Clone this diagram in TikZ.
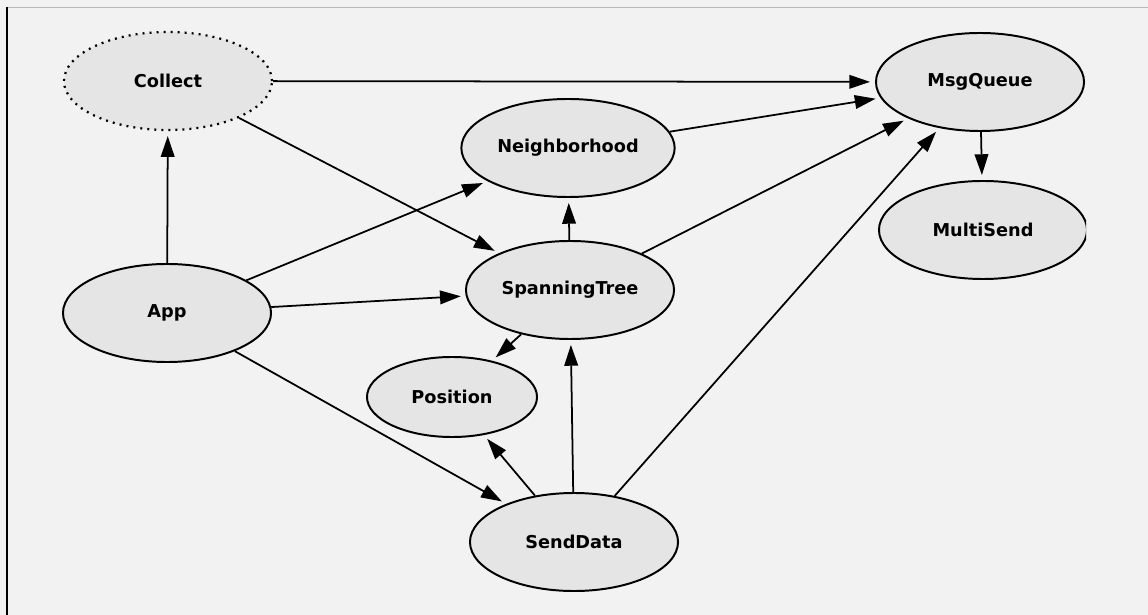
\documentclass[tikz,border=0pt]{standalone}
\usepackage{fontspec}
\setmainfont{DejaVu Sans}
\usetikzlibrary{shapes.geometric, arrows.meta}
\definecolor{sfondo}{HTML}{F2F2F2}
\definecolor{riempi}{HTML}{E5E5E5}
\tikzset{
  modulo/.style = {ellipse, draw, line width=1.4pt, fill=riempi,
    minimum width=5.2cm, minimum height=2.45cm,
    font=\fontsize{12.6}{15}\selectfont\bfseries},
  freccia/.style = {line width=1.25pt, -{Triangle[length=0.52cm, width=0.34cm]}, shorten >=3.5pt}
}

\begin{document}
\begin{tikzpicture}[x=0.025cm, y=-0.025cm]
    % Sfondo
    \fill[sfondo] (0,0) rectangle (1148,615);
    \useasboundingbox (0,0) rectangle (1148,615);
    \draw[gray!55, line width=0.7pt] (7,7) -- (1148,7);
    \draw[line width=1pt] (7,7) -- (7,615);
    % Nodi
    \node[modulo, line width=1.6pt, dash pattern=on 1.4pt off 3.6pt] (collect) at (168,81) {Collect};
    \node[modulo] (msgqueue) at (980,82) {MsgQueue};
    \node[modulo] (neighborhood) at (568,148) {Neighborhood};
    \node[modulo] (spanningtree) at (570,290) {SpanningTree};
    \node[modulo] (app) at (167,313) {App};
    \node[modulo, minimum width=4.25cm, minimum height=2cm] (position) at (452,397) {Position};
    \node[modulo] (senddata) at (574,542) {SendData};
    \begin{scope}
        \clip (0,0) rectangle (1086,615);
        \node[modulo] (multisend) at (983,230) {MultiSend};
    \end{scope}
    % Archi
    \draw[freccia] (collect) -- (msgqueue);
    \draw[freccia] (collect) -- (spanningtree);
    \draw[freccia] (neighborhood) -- (msgqueue);
    \draw[freccia] (msgqueue) -- (multisend);
    \draw[freccia] (app) -- (collect);
    \draw[freccia] (app) -- (neighborhood);
    \draw[freccia] (app) -- (spanningtree);
    \draw[freccia] (app) -- (senddata);
    \draw[freccia] (spanningtree) -- (neighborhood);
    \draw[freccia] (spanningtree) -- (msgqueue);
    \draw[freccia] (spanningtree) -- (position);
    \draw[freccia] (senddata) -- (position);
    \draw[freccia] (senddata) -- (spanningtree);
    \draw[freccia] (senddata) -- (msgqueue);
\end{tikzpicture}
\end{document}
